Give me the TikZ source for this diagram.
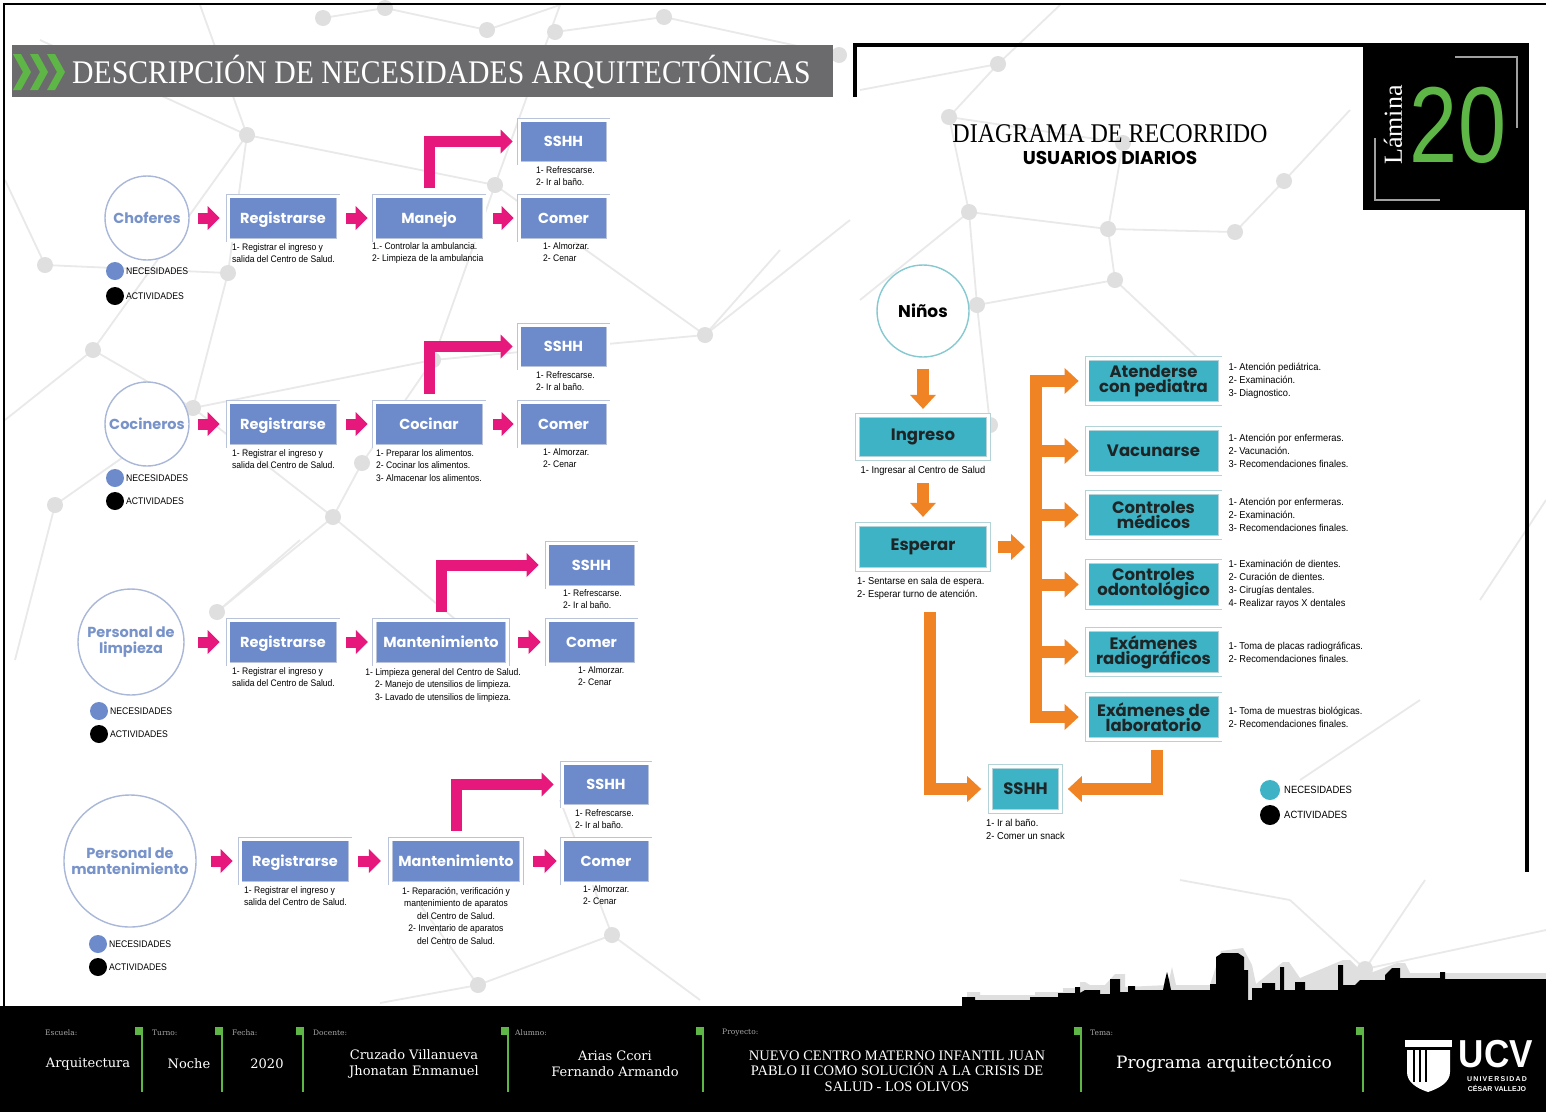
\documentclass[tikz,border=0pt]{standalone}
\usepackage{fontspec}
\usepackage{graphicx}
\setmainfont{Liberation Serif}
\newfontfamily\geofont{Poppins}
\newfontfamily\notefont[FakeStretch=0.9]{Liberation Sans}
\newfontfamily\rnotefont[FakeStretch=0.93]{Liberation Sans}
\newfontfamily\slabfont{DejaVu Serif}
\newfontfamily\arialfont{Liberation Sans}
\usetikzlibrary{arrows.meta,calc}

\definecolor{needblue}{HTML}{6D8BCB}
\definecolor{needframe}{HTML}{B9C4DA}
\definecolor{actortext}{HTML}{7893C9}
\definecolor{actorline}{HTML}{A9B8D8}
\definecolor{carefill}{HTML}{3EB3C5}
\definecolor{careframe}{HTML}{B3D3D8}
\definecolor{caretext}{HTML}{1E2526}
\definecolor{kidline}{HTML}{86C9D1}
\definecolor{flowpink}{HTML}{E6187C}
\definecolor{floworange}{HTML}{F08424}
\definecolor{bandgray}{HTML}{6B6B6D}
\definecolor{leafgreen}{HTML}{5DB646}
\definecolor{netline}{HTML}{E9E9E9}
\definecolor{netdot}{HTML}{DFDFDF}
\definecolor{footlabel}{HTML}{A8A8A8}
\definecolor{bracket}{HTML}{A0A0A0}

\tikzset{
  needbox/.style={rectangle, fill=needblue, draw=needframe, line width=0.8pt,
    double=white, double distance=3pt, minimum height=44pt, inner sep=0pt,
    text=white, text height=10pt, text depth=0pt,
    font=\geofont\bfseries\fontsize{14.5}{15}\selectfont},
  carebox/.style={rectangle, fill=carefill, draw=careframe, line width=0.8pt,
    double=white, double distance=3pt, minimum height=45.5pt, inner sep=0pt,
    text=caretext, align=center,
    font=\geofont\bfseries\fontsize{16.5}{15}\selectfont},
  actor/.style={circle, draw=actorline, line width=1.4pt, fill=white, inner sep=0pt,
    text=actortext, align=center, font=\geofont\bfseries\fontsize{14.5}{16}\selectfont},
  kid/.style={circle, draw=kidline, line width=1.4pt, fill=white, inner sep=0pt,
    text=black, font=\geofont\bfseries\fontsize{17}{17}\selectfont},
  note/.style={inner sep=0pt, align=left, text=black,
    font=\notefont\fontsize{9.5}{12.5}\selectfont},
  rnote/.style={inner sep=0pt, align=left, text=black,
    font=\rnotefont\fontsize{10}{13}\selectfont},
  legtext/.style={inner sep=0pt, anchor=west, text=black,
    font=\notefont\fontsize{9.6}{10}\selectfont},
  rlegtext/.style={inner sep=0pt, anchor=west, text=black,
    font=\notefont\fontsize{10.5}{11}\selectfont},
  legdot/.style={circle, inner sep=0pt, minimum size=18pt},
  rlegdot/.style={circle, inner sep=0pt, minimum size=20pt},
  pinkflow/.style={draw=flowpink, line width=11pt, line join=miter,
    -{Triangle[width=24pt,length=12pt,line width=0pt]}},
  orangeflow/.style={draw=floworange, line width=12pt, line join=miter,
    -{Triangle[width=26pt,length=14pt,line width=0pt]}},
  footlab/.style={inner sep=0pt, anchor=west, text=footlabel,
    font=\slabfont\fontsize{7.5}{8}\selectfont},
  footval/.style={inner sep=0pt, text=white, align=center,
    font=\slabfont\fontsize{13}{16}\selectfont},
  footsquare/.style={fill=leafgreen},
}

\begin{document}
\begin{tikzpicture}[x=1pt,y=-1pt]
\useasboundingbox (0,0) rectangle (1546,1112);
\fill[white] (0,0) rectangle (1546,1112);

% ---------- faint network in the background ----------
\foreach \ax/\ay/\bx/\by in {
  247/135/40/40, 247/135/200/5, 247/135/495/185, 247/135/228/273, 247/135/93/350,
  228/273/45/265, 228/273/193/408, 495/185/705/335, 495/185/433/360, 495/185/560/5,
  705/335/433/360, 705/335/850/220, 433/360/362/463, 433/360/193/408,
  193/408/93/350, 193/408/55/505, 193/408/333/517, 362/463/333/517,
  333/517/217/612, 55/505/15/660, 217/612/300/540, 333/517/480/640,
  612/935/478/985, 612/935/700/1000, 612/935/560/800, 478/985/380/1003,
  478/985/420/905, 323/18/385/8, 385/8/487/30, 487/30/560/5, 555/32/664/17,
  664/17/839/55, 45/265/5/180, 93/350/5/420, 705/335/780/250,
  998/64/860/90, 998/64/1060/5, 998/64/949/117, 949/117/1123/143,
  949/117/969/212, 969/212/1108/229, 1108/229/1235/232, 1235/232/1284/181,
  1284/181/1350/110, 1123/143/1108/229, 969/212/860/300, 969/212/977/305,
  977/305/1115/280, 977/305/990/425, 1115/280/1200/360, 1108/229/1115/280,
  1365/969/1290/900, 1365/969/1546/930, 1365/969/1425/880, 1290/900/1180/880,
  1546/500/1480/600, 1300/780/1420/700}
  \draw[netline, line width=1.8pt] (\ax,\ay) -- (\bx,\by);
\foreach \px/\py in {
  247/135, 228/273, 495/185, 705/335, 433/360, 193/408, 93/350, 362/463,
  333/517, 55/505, 45/265, 217/612, 612/935, 478/985, 323/18, 385/8, 487/30,
  555/32, 664/17, 839/55, 998/64, 949/117, 1123/143, 1284/181, 969/212,
  1108/229, 1235/232, 977/305, 1115/280, 990/425, 1365/969}
  \fill[netdot] (\px,\py) circle (8pt);

% ---------- page frame and headers ----------
\draw[black, line width=2pt] (4,1006) -- (4,4) -- (1546,4);
\fill[bandgray] (12,45) rectangle (833,97);
\foreach \cx in {13,30,47}
  \fill[leafgreen] (\cx,54) -- (\cx+8,54) -- (\cx+18,72) -- (\cx+8,90) -- (\cx,90) -- (\cx+10,72) -- cycle;
\node[inner sep=0pt, anchor=base west, text=white, font=\fontsize{33}{33}\selectfont]
  (hdr) at (72,83) {\scalebox{0.9}[1]{DESCRIPCIÓN DE NECESIDADES ARQUITECTÓNICAS}};

\draw[black, line width=4pt] (855,97) -- (855,45) -- (1527,45) -- (1527,872);
\fill[black] (1363,43) rectangle (1529,210);
\draw[bracket, line width=1.5pt] (1455,57) -- (1517,57) -- (1517,128);
\draw[bracket, line width=1.5pt] (1375,138) -- (1375,200) -- (1440,200);
\node[rotate=90, inner sep=0pt, text=white, font=\fontsize{26}{26}\selectfont]
  (lam) at (1393,125) {Lámina};
\node[inner sep=0pt, text=leafgreen, font=\arialfont\fontsize{108}{108}\selectfont]
  (num) at (1458,125) {\scalebox{0.8}[1]{20}};

\node[inner sep=0pt, anchor=base, font=\fontsize{27}{27}\selectfont]
  (ttl) at (1110,142) {\scalebox{0.89}[1]{DIAGRAMA DE RECORRIDO}};
\node[inner sep=0pt, anchor=base, font=\geofont\bfseries\fontsize{18.5}{18}\selectfont]
  (ttlb) at (1110,164) {USUARIOS DIARIOS};

% ---------- skyline ----------
\fill[netdot] (967,1006) -- (967,992) -- (980,992) -- (980,995) -- (1035,995) -- (1035,992)
  -- (1063,992) -- (1063,988) -- (1080,988) -- (1080,982) -- (1085,982) -- (1090,985)
  -- (1105,985) -- (1115,974) -- (1125,974) -- (1125,987) -- (1168,985) -- (1172,967)
  -- (1176,985) -- (1210,985) -- (1221,951) -- (1243,948) -- (1252,965) -- (1256,984)
  -- (1283,962) -- (1289,962) -- (1300,978) -- (1343,960) -- (1350,960) -- (1365,975)
  -- (1397,963) -- (1405,963) -- (1410,973) -- (1546,973) -- (1546,1006) -- cycle;
\fill[black] (962,1008) -- (962,997) -- (975,997) -- (975,1000) -- (1030,1000) -- (1030,997)
  -- (1058,997) -- (1058,993) -- (1075,993) -- (1075,987) -- (1080,987) -- (1080,993)
  -- (1085,990) -- (1100,990) -- (1100,994) -- (1110,994) -- (1110,979) -- (1120,979)
  -- (1120,992) -- (1128,992) -- (1128,986) -- (1135,986) -- (1135,990) -- (1163,990)
  -- (1165,980) -- (1167,972) -- (1169,980) -- (1171,990) -- (1210,990) -- (1210,984)
  -- (1216,984) -- (1216,957) -- (1222,953) -- (1238,953) -- (1244,957) -- (1244,970)
  -- (1248,970) -- (1248,1000) -- (1252,1000) -- (1252,988) -- (1262,988) -- (1262,983)
  -- (1275,983) -- (1275,990) -- (1280,990) -- (1280,967) -- (1284,967) -- (1284,990)
  -- (1295,990) -- (1295,982) -- (1305,982) -- (1305,990) -- (1338,990) -- (1338,965)
  -- (1343,965) -- (1343,985) -- (1355,985) -- (1360,980) -- (1385,980) -- (1385,975)
  -- (1392,968) -- (1400,968) -- (1400,978) -- (1440,978) -- (1440,972) -- (1445,972)
  -- (1445,979) -- (1546,979) -- (1546,1008) -- cycle;

% ---------- footer ----------
\fill[black] (0,1006) rectangle (1546,1112);
\foreach \mx in {139,219,300,505,700,1078,1360} {
  \fill[footsquare] (\mx-4,1027) rectangle (\mx+4,1035);
  \draw[leafgreen, line width=1.2pt] (\mx+3,1035) -- (\mx+3,1092);
}
\node[footlab] (lesc) at (45,1033) {Escuela:};
\node[footlab] (ltur) at (152,1033) {Turno:};
\node[footlab] (lfec) at (232,1033) {Fecha:};
\node[footlab] (ldoc) at (313,1033) {Docente:};
\node[footlab] (lalu) at (515,1033) {Alumno:};
\node[footlab] (lpro) at (722,1033) {Proyecto:};
\node[footlab] (ltem) at (1090,1033) {Tema:};
\node[footval] (vesc) at (88,1064) {Arquitectura};
\node[footval] (vtur) at (189,1064) {Noche};
\node[footval] (vfec) at (267,1064) {2020};
\node[footval] (vdoc) at (414,1064) {Cruzado Villanueva\\Jhonatan Enmanuel};
\node[footval] (valu) at (615,1064) {Arias Ccori\\Fernando Armando};
\node[inner sep=0pt, text=white, align=center, font=\fontsize{14.5}{15.5}\selectfont]
  (vpro) at (897,1071) {NUEVO CENTRO MATERNO INFANTIL JUAN\\PABLO II COMO SOLUCIÓN A LA CRISIS DE\\SALUD - LOS OLIVOS};
\node[footval, font=\slabfont\fontsize{17}{18}\selectfont] (vtem) at (1224,1064) {Programa arquitectónico};

% university emblem
\fill[white] (1405,1040) rectangle (1452,1047);
\fill[white] (1407,1050) -- (1450,1050) -- (1450,1072)
  .. controls (1450,1082) and (1440,1088) .. (1428,1092)
  .. controls (1416,1088) and (1407,1082) .. (1407,1072) -- cycle;
\foreach \sx in {1414,1420,1426}
  \draw[black, line width=1.8pt] (\sx,1050) -- (\sx,1082);
\node[inner sep=0pt, text=white, font=\arialfont\bfseries\fontsize{39}{39}\selectfont]
  (ucv) at (1496,1054) {\scalebox{0.9}[1]{UCV}};
\node[inner sep=0pt, text=white, font=\arialfont\bfseries\fontsize{7}{8}\selectfont]
  (ucv1) at (1497,1079) {U\,N\,I\,V\,E\,R\,S\,I\,D\,A\,D};
\node[inner sep=0pt, text=white, font=\arialfont\bfseries\fontsize{7}{8}\selectfont]
  (ucv2) at (1497,1088) {CÉSAR VALLEJO};

% ================= left: user routes =================
% --- drivers
\node[actor, minimum size=84pt] (cho) at (147,218) {Choferes};
\node[needbox, minimum width=110pt] (reg1) at (283,218) {Registrarse};
\node[needbox, minimum width=110pt] (act1) at (429,218) {Manejo};
\node[needbox, minimum width=89pt, minimum height=43pt] (wc1) at (563.5,141.5) {SSHH};
\node[needbox, minimum width=89pt] (eat1) at (563.5,218) {Comer};
\draw[pinkflow] ($(cho.east)+(8,0)$) -- ($(reg1.west)+(-8,0)$);
\draw[pinkflow] ($(reg1.east)+(8,0)$) -- ($(act1.west)+(-6,0)$);
\draw[pinkflow] ($(act1.east)+(9,0)$) -- ($(eat1.west)+(-5,0)$);
\draw[pinkflow] ($(act1.north)+(0,-8)$) |- ($(wc1.west)+(-6,0)$);
\node[note, anchor=north west] (reg1n) at (232,243) {1- Registrar el ingreso y\\salida del Centro de Salud.};
\node[note, anchor=north west] (act1n) at (372,242) {1.- Controlar la ambulancia.\\2- Limpieza de la ambulancia};
\node[note, anchor=north west] (wc1n) at (536,166) {1- Refrescarse.\\2- Ir al baño.};
\node[note, anchor=north west] (eat1n) at (543,242) {1- Almorzar.\\2- Cenar};
\node[legdot, fill=needblue] (nd1) at (115,271) {};
\node[legtext] (nt1) at (126,271) {NECESIDADES};
\node[legdot, fill=black] (ad1) at (115,296) {};
\node[legtext] (at1) at (126,296) {ACTIVIDADES};

% --- cooks
\node[actor, minimum size=84pt] (coc) at (147,424) {Cocineros};
\node[needbox, minimum width=110pt] (reg2) at (283,424) {Registrarse};
\node[needbox, minimum width=110pt] (act2) at (429,424) {Cocinar};
\node[needbox, minimum width=89pt, minimum height=43pt] (wc2) at (563.5,346.5) {SSHH};
\node[needbox, minimum width=89pt] (eat2) at (563.5,424) {Comer};
\draw[pinkflow] ($(coc.east)+(8,0)$) -- ($(reg2.west)+(-8,0)$);
\draw[pinkflow] ($(reg2.east)+(8,0)$) -- ($(act2.west)+(-6,0)$);
\draw[pinkflow] ($(act2.east)+(9,0)$) -- ($(eat2.west)+(-5,0)$);
\draw[pinkflow] ($(act2.north)+(0,-8)$) |- ($(wc2.west)+(-6,0)$);
\node[note, anchor=north west] (reg2n) at (232,449) {1- Registrar el ingreso y\\salida del Centro de Salud.};
\node[note, anchor=north west] (act2n) at (376,449) {1- Preparar los alimentos.\\2- Cocinar los alimentos.\\3- Almacenar los alimentos.};
\node[note, anchor=north west] (wc2n) at (536,371) {1- Refrescarse.\\2- Ir al baño.};
\node[note, anchor=north west] (eat2n) at (543,448) {1- Almorzar.\\2- Cenar};
\node[legdot, fill=needblue] (nd2) at (115,478) {};
\node[legtext] (nt2) at (126,478) {NECESIDADES};
\node[legdot, fill=black] (ad2) at (115,501) {};
\node[legtext] (at2) at (126,501) {ACTIVIDADES};

% --- cleaning staff
\node[actor, minimum size=106pt] (lim) at (131,642) {Personal de\\limpieza};
\node[needbox, minimum width=110pt] (reg3) at (283,642) {Registrarse};
\node[needbox, minimum width=133.4pt] (act3) at (441,642) {Mantenimiento};
\node[needbox, minimum width=89pt] (wc3) at (591.5,565) {SSHH};
\node[needbox, minimum width=89pt] (eat3) at (591.5,642) {Comer};
\draw[pinkflow] ($(lim.east)+(13,0)$) -- ($(reg3.west)+(-8,0)$);
\draw[pinkflow] ($(reg3.east)+(8,0)$) -- ($(act3.west)+(-6,0)$);
\draw[pinkflow] ($(act3.east)+(10,0)$) -- ($(eat3.west)+(-6,0)$);
\draw[pinkflow] ($(act3.north)+(0,-8)$) |- ($(wc3.west)+(-8,0)$);
\node[note, anchor=north west] (reg3n) at (232,667) {1- Registrar el ingreso y\\salida del Centro de Salud.};
\node[note, anchor=north, align=center] (act3n) at (443,668) {1- Limpieza general del Centro de Salud.\\2- Manejo de utensilios de limpieza.\\3- Lavado de utensilios de limpieza.};
\node[note, anchor=north west] (wc3n) at (563,589) {1- Refrescarse.\\2- Ir al baño.};
\node[note, anchor=north west] (eat3n) at (578,666) {1- Almorzar.\\2- Cenar};
\node[legdot, fill=needblue] (nd3) at (99,711) {};
\node[legtext] (nt3) at (110,711) {NECESIDADES};
\node[legdot, fill=black] (ad3) at (99,734) {};
\node[legtext] (at3) at (110,734) {ACTIVIDADES};

% --- maintenance staff
\node[actor, minimum size=132pt] (mtt) at (130,861) {Personal de\\mantenimiento};
\node[needbox, minimum width=110pt] (reg4) at (295,861) {Registrarse};
\node[needbox, minimum width=131.4pt] (act4) at (456,861) {Mantenimiento};
\node[needbox, minimum width=88pt, minimum height=43pt] (wc4) at (606,784.5) {SSHH};
\node[needbox, minimum width=88pt] (eat4) at (606,861) {Comer};
\draw[pinkflow] ($(mtt.east)+(14,0)$) -- ($(reg4.west)+(-7,0)$);
\draw[pinkflow] ($(reg4.east)+(8,0)$) -- ($(act4.west)+(-9,0)$);
\draw[pinkflow] ($(act4.east)+(11,0)$) -- ($(eat4.west)+(-5,0)$);
\draw[pinkflow] ($(act4.north)+(0,-8)$) |- ($(wc4.west)+(-8,0)$);
\node[note, anchor=north west] (reg4n) at (244,886) {1- Registrar el ingreso y\\salida del Centro de Salud.};
\node[note, anchor=north, align=center] (act4n) at (456,887) {1- Reparación, verificación y\\mantenimiento de aparatos\\del Centro de Salud.\\2- Inventario de aparatos\\del Centro de Salud.};
\node[note, anchor=north west] (wc4n) at (575,809) {1- Refrescarse.\\2- Ir al baño.};
\node[note, anchor=north west] (eat4n) at (583,885) {1- Almorzar.\\2- Cenar};
\node[legdot, fill=needblue] (nd4) at (98,944) {};
\node[legtext] (nt4) at (109,944) {NECESIDADES};
\node[legdot, fill=black] (ad4) at (98,967) {};
\node[legtext] (at4) at (109,967) {ACTIVIDADES};

% ================= right: children's route =================
\node[kid, minimum size=92pt] (nin) at (923,311) {Niños};
\node[carebox, minimum width=131pt, minimum height=43.5pt] (ing) at (923,437) {Ingreso};
\node[carebox, minimum width=131pt] (esp) at (923,547) {Esperar};
\node[carebox, minimum width=133pt] (ped) at (1153.5,381) {Atenderse\\con pediatra};
\node[carebox, minimum width=133pt] (vac) at (1153.5,451) {Vacunarse};
\node[carebox, minimum width=133pt] (med) at (1153.5,515) {Controles\\médicos};
\node[carebox, minimum width=133pt] (odo) at (1153.5,584.5) {Controles\\odontológico};
\node[carebox, minimum width=133pt] (rad) at (1153.5,652) {Exámenes\\radiográficos};
\node[carebox, minimum width=133pt] (lab) at (1153.5,717) {Exámenes de\\laboratorio};
\node[carebox, minimum width=70pt, minimum height=44.5pt] (wc) at (1025.5,789) {SSHH};

\coordinate (bus) at (1036,381);
\coordinate (drop) at (930,612);

\draw[orangeflow] ($(nin.south)+(0,11)$) -- ($(ing.north)+(0,-6)$);
\draw[orangeflow] ($(ing.south)+(0,24)$) -- ($(esp.north)+(0,-7)$);
\draw[orangeflow] ($(esp.east)+(9,0)$) -- ($(bus |- esp.east)+(-11,0)$);
\fill[floworange] ($(bus |- ped.west)+(-6,-6)$) rectangle ($(bus |- lab.west)+(6,6)$);
\foreach \dest in {ped,vac,med,odo,rad,lab}
  \draw[orangeflow] (bus |- \dest.west) -- ($(\dest.west)+(-8,0)$);
\draw[orangeflow] (drop) |- ($(wc.west)+(-9,0)$);
\draw[orangeflow] ($(lab.south)+(3.5,10)$) |- ($(wc.east)+(7,0)$);

\node[rnote, anchor=north] (ingn) at ($(ing.south)+(0,7)$) {1- Ingresar al Centro de Salud};
\node[rnote, anchor=north west] (espn) at (857,577) {1- Sentarse en sala de espera.\\2- Esperar turno de atención.};
\node[rnote, anchor=north west] (wcn) at (986,819) {1- Ir al baño.\\2- Comer un snack};
\node[rnote, anchor=west] (pedn) at ($(ped.east)+(8,0)$) {1- Atención pediátrica.\\2- Examinación.\\3- Diagnostico.};
\node[rnote, anchor=west] (vacn) at ($(vac.east)+(8,0)$) {1- Atención por enfermeras.\\2- Vacunación.\\3- Recomendaciones finales.};
\node[rnote, anchor=west] (medn) at ($(med.east)+(8,0)$) {1- Atención por enfermeras.\\2- Examinación.\\3- Recomendaciones finales.};
\node[rnote, anchor=west] (odon) at ($(odo.east)+(8,0)$) {1- Examinación de dientes.\\2- Curación de dientes.\\3- Cirugías dentales.\\4- Realizar rayos X dentales};
\node[rnote, anchor=west] (radn) at ($(rad.east)+(8,0)$) {1- Toma de placas radiográficas.\\2- Recomendaciones finales.};
\node[rnote, anchor=west] (labn) at ($(lab.east)+(8,0)$) {1- Toma de muestras biológicas.\\2- Recomendaciones finales.};

\node[rlegdot, fill=carefill] (ndr) at (1270,790) {};
\node[rlegtext] (ntr) at (1284,790) {NECESIDADES};
\node[rlegdot, fill=black] (adr) at (1270,815) {};
\node[rlegtext] (atr) at (1284,815) {ACTIVIDADES};
\end{tikzpicture}
\end{document}
